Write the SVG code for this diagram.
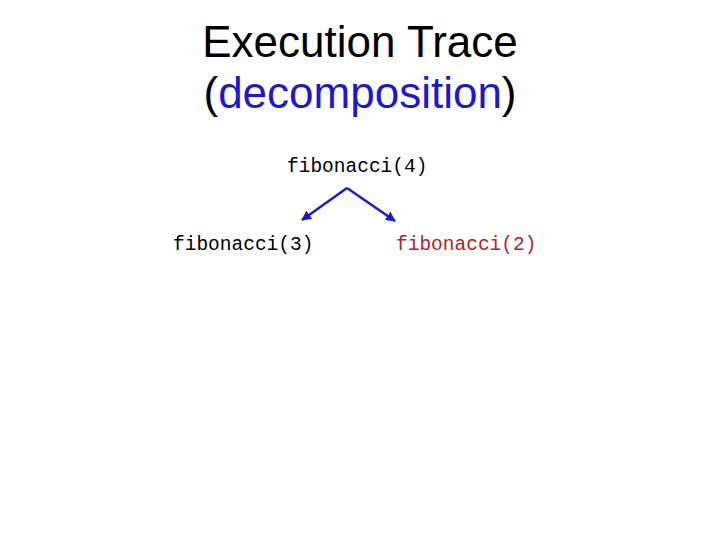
<svg xmlns="http://www.w3.org/2000/svg" width="720" height="540" viewBox="0 0 720 540">
<defs>
<style>
.title{font-family:"Liberation Sans",Arial,sans-serif;font-size:44px;fill:#000;text-anchor:middle}
.code{font-family:"Liberation Mono","Courier New",monospace;font-size:19.5px;fill:#000}
.edge{stroke:#1a1acc;stroke-width:2.5;fill:none;marker-end:url(#ah)}
</style>
<marker id="ah" viewBox="0 0 10 10" refX="9" refY="5" markerWidth="4" markerHeight="4" orient="auto" markerUnits="strokeWidth">
<path d="M0,0 L10,5 L0,10 z" fill="#1a1acc"/>
</marker>
</defs>
<rect width="720" height="540" fill="#fff"/>
<g id="title">
<text class="title" x="360" y="57">Execution Trace</text>
<text class="title" x="360" y="108">(<tspan fill="#1a1acc">decomposition</tspan>)</text>
</g>
<g id="connectors">
<line class="edge" x1="347" y1="188" x2="302" y2="220"/>
<line class="edge" x1="347" y1="188" x2="395" y2="221"/>
</g>
<g id="fib4"><text class="code" x="287" y="172">fibonacci(4)</text></g>
<g id="fib3"><text class="code" x="173" y="250">fibonacci(3)</text></g>
<g id="fib2"><text class="code" x="396" y="250" fill="#b22222" style="fill:#b22222">fibonacci(2)</text></g>
</svg>
